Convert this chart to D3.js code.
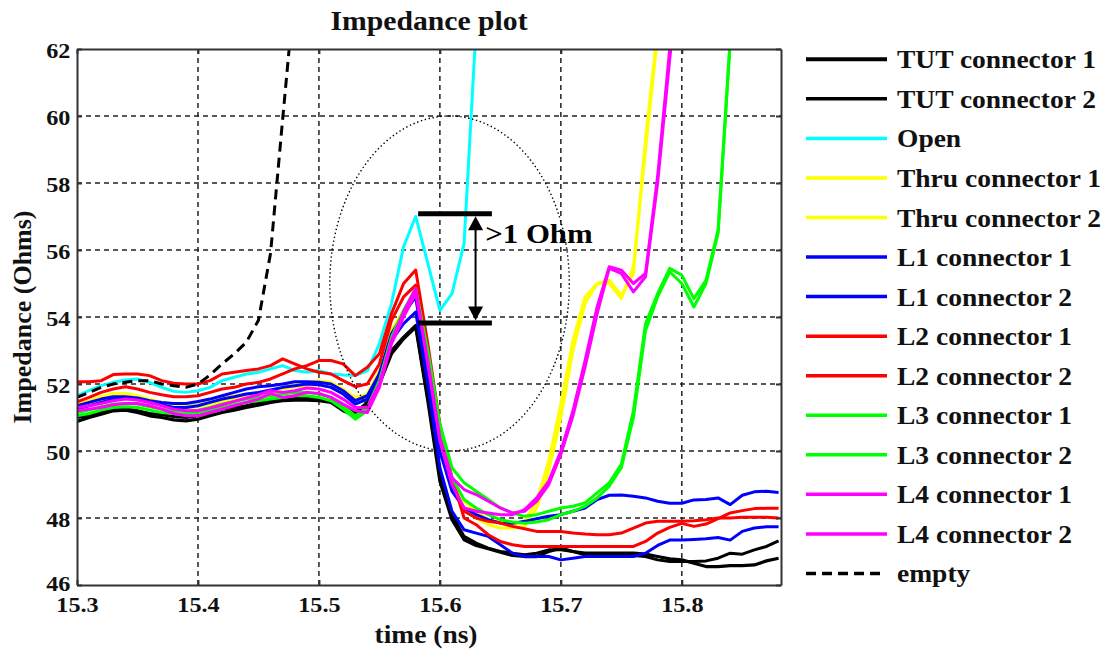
<!DOCTYPE html>
<html><head><meta charset="utf-8">
<script src="https://cdn.jsdelivr.net/npm/d3@7"></script>
<style>
body{margin:0;background:#fff;}
svg text{font-family:"Liberation Serif","Times New Roman",serif;font-weight:bold;fill:#111;}
</style>
</head><body>
<svg id="chart" width="1119" height="651"></svg>
<script>
// ---------- DATA ----------
const times = [15.30,15.31,15.32,15.33,15.34,15.35,15.36,15.37,15.38,15.39,
  15.40,15.41,15.42,15.43,15.44,15.45,15.46,15.47,15.48,15.49,
  15.50,15.51,15.52,15.53,15.54,15.55,15.56,15.57,15.58,15.59,
  15.60,15.61,15.62,15.63,15.64,15.65,15.66,15.67,15.68,15.69,
  15.70,15.71,15.72,15.73,15.74,15.75,15.76,15.77,15.78,15.79,
  15.80,15.81,15.82,15.83,15.84,15.85,15.86,15.87,15.88];

const tut1 = [50.88,51.0,51.1,51.2,51.22,51.15,51.05,51.0,50.93,50.9,
  50.95,51.05,51.15,51.22,51.3,51.37,51.45,51.5,51.52,51.52,
  51.5,51.45,51.2,51.05,51.35,52.0,52.9,53.35,53.7,51.5,
  49.1,47.95,47.35,47.18,47.08,46.98,46.88,46.85,46.85,47.0,
  47.1,47.0,46.95,46.95,46.95,46.95,46.95,46.92,46.85,46.78,
  46.75,46.65,46.55,46.55,46.58,46.58,46.6,46.72,46.8];
const tut2 = [51.0,51.05,51.15,51.25,51.27,51.2,51.12,51.08,51.03,51.0,
  51.05,51.15,51.25,51.3,51.35,51.45,51.52,51.55,51.6,51.58,
  51.55,51.5,51.3,51.15,51.45,52.15,53.0,53.4,53.75,51.6,
  49.3,48.1,47.45,47.25,47.1,47.0,46.95,46.9,46.95,47.05,
  47.05,47.0,46.9,46.9,46.9,46.9,46.88,46.85,46.75,46.7,
  46.7,46.7,46.72,46.8,46.95,46.92,47.05,47.15,47.32];
const open = [51.65,51.8,51.95,52.05,52.12,52.15,52.05,51.9,51.78,51.75,
  51.8,51.9,52.1,52.2,52.3,52.35,52.45,52.55,52.4,52.35,
  52.4,52.3,52.27,52.25,52.4,53.2,54.4,56.1,57.0,55.6,
  54.2,54.7,56.2,62.7,null,null,null,null,null,null,
  null,null,null,null,null,null,null,null,null,null,
  null,null,null,null,null,null,null,null,null];
const thru1 = [51.4,51.5,51.62,51.72,51.72,51.65,51.55,51.45,51.4,51.38,
  51.42,51.5,51.58,51.65,51.7,51.72,51.8,51.9,52.0,52.05,
  52.1,52.05,51.85,51.6,51.7,52.4,53.6,54.2,54.7,52.3,
  50.0,48.9,48.3,48.0,47.8,47.7,47.7,47.75,48.3,49.4,
  51.0,53.0,54.4,55.0,55.1,54.65,55.3,59.3,62.6,null,
  null,null,null,null,null,null,null,null,null];
const thru2 = [51.3,51.4,51.5,51.6,51.62,51.55,51.45,51.37,51.3,51.28,
  51.32,51.4,51.48,51.55,51.62,51.67,51.75,51.85,51.92,51.95,
  51.98,51.92,51.75,51.5,51.6,52.3,53.5,54.1,54.6,52.4,
  50.1,49.0,48.5,48.2,47.95,47.85,47.8,47.9,48.5,49.7,
  51.4,53.3,54.6,55.0,55.0,54.55,55.5,59.0,62.4,null,
  null,null,null,null,null,null,null,null,null];
const l1c1 = [51.35,51.45,51.55,51.62,51.62,51.58,51.5,51.45,51.42,51.42,
  51.48,51.55,51.65,51.75,51.85,51.92,51.95,52.0,52.07,52.07,
  52.05,52.0,51.8,51.5,51.65,52.3,53.3,53.8,54.15,52.0,
  49.5,48.2,47.65,47.55,47.45,47.2,46.95,46.85,46.85,46.85,
  46.75,46.8,46.85,46.85,46.85,46.85,46.85,46.95,47.18,47.34,
  47.34,47.36,47.38,47.42,47.34,47.6,47.7,47.74,47.74];
const l1c2 = [51.25,51.35,51.45,51.55,51.58,51.55,51.45,51.38,51.3,51.3,
  51.35,51.45,51.55,51.62,51.7,51.75,51.82,51.9,51.95,52.0,
  51.98,51.9,51.7,51.4,51.55,52.3,53.5,54.1,54.6,52.3,
  50.0,48.8,48.3,48.1,47.95,47.85,47.84,47.9,47.98,48.05,
  48.1,48.2,48.3,48.55,48.68,48.69,48.65,48.6,48.5,48.44,
  48.44,48.54,48.55,48.6,48.4,48.68,48.78,48.8,48.76];
const l2c1 = [52.07,52.07,52.1,52.28,52.3,52.3,52.25,52.1,52.02,52.0,
  52.0,52.1,52.3,52.35,52.4,52.45,52.55,52.75,52.6,52.45,
  52.35,52.3,52.1,51.92,52.0,52.6,53.9,54.6,54.95,52.9,
  50.6,49.1,48.2,48.0,47.9,47.85,47.75,47.68,47.6,47.6,
  47.6,47.55,47.52,47.5,47.5,47.55,47.7,47.85,47.9,47.9,
  47.9,47.92,47.95,48.0,48.0,48.02,48.02,48.02,48.0];
const l2c2 = [51.47,51.6,51.75,51.85,51.92,51.85,51.75,51.68,51.62,51.62,
  51.65,51.75,51.85,51.9,52.0,52.05,52.15,52.3,52.45,52.55,
  52.7,52.7,52.6,52.25,52.5,52.9,54.1,55.0,55.4,53.2,
  50.8,49.2,48.0,47.8,47.5,47.3,47.2,47.15,47.15,47.15,
  47.15,47.15,47.15,47.15,47.15,47.15,47.15,47.3,47.55,47.72,
  47.84,47.75,47.82,47.98,48.15,48.22,48.28,48.29,48.29];
const l3c1 = [51.05,51.12,51.22,51.3,51.32,51.3,51.22,51.15,51.12,51.1,
  51.15,51.22,51.3,51.38,51.45,51.5,51.55,51.6,51.65,51.65,
  51.6,51.5,51.25,50.95,51.2,52.0,53.3,54.1,54.8,53.0,
  50.8,49.5,49.05,48.8,48.55,48.3,48.15,48.05,48.1,48.2,
  48.3,48.35,48.45,48.75,49.05,49.6,51.2,53.8,54.7,55.45,
  55.25,54.55,55.1,56.6,62.3,null,null,null,null];
const l3c2 = [51.15,51.22,51.32,51.4,51.42,51.4,51.32,51.25,51.2,51.18,
  51.22,51.3,51.4,51.48,51.55,51.6,51.65,51.7,51.75,51.75,
  51.7,51.6,51.35,51.05,51.3,52.1,53.4,54.2,54.85,52.9,
  50.6,49.2,48.55,48.3,48.1,47.95,47.88,47.84,47.88,47.95,
  48.1,48.2,48.35,48.6,48.95,49.5,51.0,53.6,54.6,55.35,
  55.0,54.3,55.0,56.5,62.2,null,null,null,null];
const l4c1 = [51.2,51.25,51.3,51.38,51.42,51.42,51.35,51.25,51.12,51.05,
  51.05,51.15,51.25,51.35,51.45,51.55,51.72,51.6,51.65,51.75,
  51.72,51.6,51.4,51.2,51.15,51.9,53.2,54.0,54.7,52.7,
  50.4,49.2,48.85,48.7,48.5,48.3,48.15,48.2,48.5,49.0,
  49.9,51.05,52.5,54.1,55.45,55.3,54.75,55.2,58.0,61.7,
  65.0,null,null,null,null,null,null,null,null];
const l4c2 = [51.3,51.35,51.42,51.5,51.55,51.52,51.45,51.35,51.25,51.2,
  51.2,51.28,51.38,51.48,51.58,51.68,51.8,51.75,51.8,51.88,
  51.85,51.75,51.55,51.3,51.3,52.0,53.3,54.15,54.85,52.6,
  50.3,49.0,48.3,48.2,48.15,48.1,48.1,48.25,48.6,49.1,
  50.0,51.2,52.7,54.3,55.5,55.4,55.0,55.3,58.2,62.0,
  65.0,null,null,null,null,null,null,null,null];
const empty = [51.6,51.75,51.9,52.0,52.05,52.1,52.1,52.0,51.95,51.9,
  52.0,52.27,52.6,52.9,53.25,53.9,55.9,59.9,63.8,null,
  null,null,null,null,null,null,null,null,null,null,
  null,null,null,null,null,null,null,null,null,null,
  null,null,null,null,null,null,null,null,null,null,
  null,null,null,null,null,null,null,null,null];

const seriesNames = ["TUT connector 1","TUT connector 2","Open","Thru connector 1","Thru connector 2",
  "L1 connector 1","L1 connector 2","L2 connector 1","L2 connector 2","L3 connector 1","L3 connector 2",
  "L4 connector 1","L4 connector 2","empty"];
const seriesValues = [tut1,tut2,open,thru1,thru2,l1c1,l1c2,l2c1,l2c2,l3c1,l3c2,l4c1,l4c2,empty];
const seriesColors = ["#000000","#000000","#00ffff","#ffff00","#ffff00","#0000ff","#0000ff",
  "#ff0000","#ff0000","#00ff00","#00ff00","#ff00ff","#ff00ff","#000000"];
const seriesDashed = [false,false,false,false,false,false,false,false,false,false,false,false,false,true];

const xTicks = [15.3,15.4,15.5,15.6,15.7,15.8];
const yTicks = [46,48,50,52,54,56,58,60,62];
const xDomain = [15.3, 15.882];
const yDomain = [46, 62];

// annotation values (data coordinates)
const ellipseCenter = [15.608, 55.0];
const ellipseRadii = [0.099, 5.0];
const barLevels = [57.08, 53.82];
const barSpan = [15.582, 15.643];
const arrowT = 15.6295;
const annotText = ">1 Ohm";
const annotPos = [15.6375, 56.2];

// ---------- LAYOUT ----------
const L = 77, R = 781, T = 49, B = 585;
const svg = d3.select("#chart");
const x = d3.scaleLinear().domain(xDomain).range([L, R]);
const y = d3.scaleLinear().domain(yDomain).range([B, T]);
const SX = 1.1; // horizontal text stretch of the original

svg.append("defs").append("clipPath").attr("id","clip")
  .append("rect").attr("x",L).attr("y",T).attr("width",R-L).attr("height",B-T);

// grid
const grid = svg.append("g").attr("stroke","#222").attr("stroke-width",1.5).attr("stroke-dasharray","5,4");
grid.selectAll(".gx").data(xTicks.filter(d=>d>xDomain[0])).join("line")
  .attr("x1",d=>x(d)).attr("x2",d=>x(d)).attr("y1",T).attr("y2",B);
grid.selectAll(".gy").data(yTicks.filter(d=>d>yDomain[0] && d<yDomain[1])).join("line")
  .attr("y1",d=>y(d)).attr("y2",d=>y(d)).attr("x1",L).attr("x2",R);

// series
const lineGen = d3.line().defined(d=>d[1]!=null).x(d=>x(d[0])).y(d=>y(d[1]));
const plot = svg.append("g").attr("clip-path","url(#clip)");
seriesValues.forEach((vals,i)=>{
  plot.append("path")
    .attr("d", lineGen(times.map((t,j)=>[t, vals[j]])))
    .attr("fill","none")
    .attr("stroke", seriesColors[i])
    .attr("stroke-width", i===0 ? 3.2 : 3)
    .attr("stroke-linejoin","round")
    .attr("stroke-dasharray", seriesDashed[i] ? "10,6" : null);
});

// annotation ellipse
svg.append("ellipse")
  .attr("cx", x(ellipseCenter[0])).attr("cy", y(ellipseCenter[1]))
  .attr("rx", x(ellipseCenter[0]+ellipseRadii[0]) - x(ellipseCenter[0]))
  .attr("ry", y(ellipseCenter[1]-ellipseRadii[1]) - y(ellipseCenter[1]))
  .attr("fill","none").attr("stroke","#000").attr("stroke-width",1.4)
  .attr("stroke-dasharray","1.4,2.6");

// bars
svg.selectAll(".bar").data(barLevels).join("line")
  .attr("x1", x(barSpan[0])).attr("x2", x(barSpan[1]))
  .attr("y1", d=>y(d)).attr("y2", d=>y(d))
  .attr("stroke","#000").attr("stroke-width",5);
// double arrow
const ax = x(arrowT), yTop = y(barLevels[0]) + 2.5, yBot = y(barLevels[1]) - 2.5;
svg.append("line").attr("x1",ax).attr("x2",ax).attr("y1",yTop+12).attr("y2",yBot-12)
  .attr("stroke","#000").attr("stroke-width",2);
svg.append("path").attr("d",`M${ax},${yTop} L${ax-7.5},${yTop+14} L${ax+7.5},${yTop+14} Z`).attr("fill","#000");
svg.append("path").attr("d",`M${ax},${yBot} L${ax-7.5},${yBot-14} L${ax+7.5},${yBot-14} Z`).attr("fill","#000");
svg.append("text").attr("transform",`translate(${x(annotPos[0])},${y(annotPos[1])}) scale(${SX},1)`)
  .attr("font-size",28).style("fill","#000").text(annotText);

// axes (box with inward ticks)
const axG = svg.append("g").attr("class","axes");
const axBottom = axG.append("g").attr("transform",`translate(0,${B})`)
  .call(d3.axisBottom(x).tickValues(xTicks).tickSize(-5).tickSizeOuter(0).tickFormat(d3.format(".1f")));
const axLeft = axG.append("g").attr("transform",`translate(${L},0)`)
  .call(d3.axisLeft(y).tickValues(yTicks).tickSize(-5).tickSizeOuter(0).tickFormat(d3.format("d")));
axG.append("g").attr("transform",`translate(0,${T})`)
  .call(d3.axisTop(x).tickValues(xTicks).tickSize(-5).tickSizeOuter(0).tickFormat(""));
axG.append("g").attr("transform",`translate(${R},0)`)
  .call(d3.axisRight(y).tickValues(yTicks).tickSize(-5).tickSizeOuter(0).tickFormat(""));
axG.selectAll("path.domain").attr("stroke","#333").attr("stroke-width",2);
axG.selectAll(".tick line").attr("stroke","#333").attr("stroke-width",2);
axBottom.selectAll(".tick text").attr("y",27).attr("dy",null)
  .attr("transform",`scale(${SX},1)`).attr("font-size",22)
  .attr("font-family","Liberation Serif, serif").attr("font-weight","bold");
axLeft.selectAll(".tick text").attr("x",-6).attr("dy",null).attr("y",d => d===46 ? 5 : 8)
  .attr("transform",`scale(${SX},1)`).attr("font-size",22)
  .attr("font-family","Liberation Serif, serif").attr("font-weight","bold");

// title & labels
svg.append("text").attr("transform",`translate(${(L+R)/2},30) scale(${SX},1)`)
  .attr("text-anchor","middle").attr("font-size",27).text("Impedance plot");
svg.append("text").attr("transform",`translate(${(L+R)/2 - 3},643) scale(${SX},1)`)
  .attr("text-anchor","middle").attr("font-size",25).text("time (ns)");
svg.append("text").attr("transform",`translate(31,${(T+B)/2}) rotate(-90)`)
  .attr("text-anchor","middle").attr("font-size",26).text("Impedance (Ohms)");

// legend
const leg = svg.append("g");
seriesNames.forEach((name,i)=>{
  const ly = 59.3 + i*39.55;
  leg.append("line").attr("x1",806).attr("x2",seriesDashed[i]?884:887).attr("y1",ly).attr("y2",ly)
    .attr("stroke",seriesColors[i]).attr("stroke-width", i===0 ? 4 : 3.5)
    .attr("stroke-dasharray", seriesDashed[i] ? "10,6" : null);
  leg.append("text").attr("transform",`translate(897,${ly+9}) scale(${SX},1)`)
    .attr("font-size",25).text(name);
});
</script>
</body></html>
